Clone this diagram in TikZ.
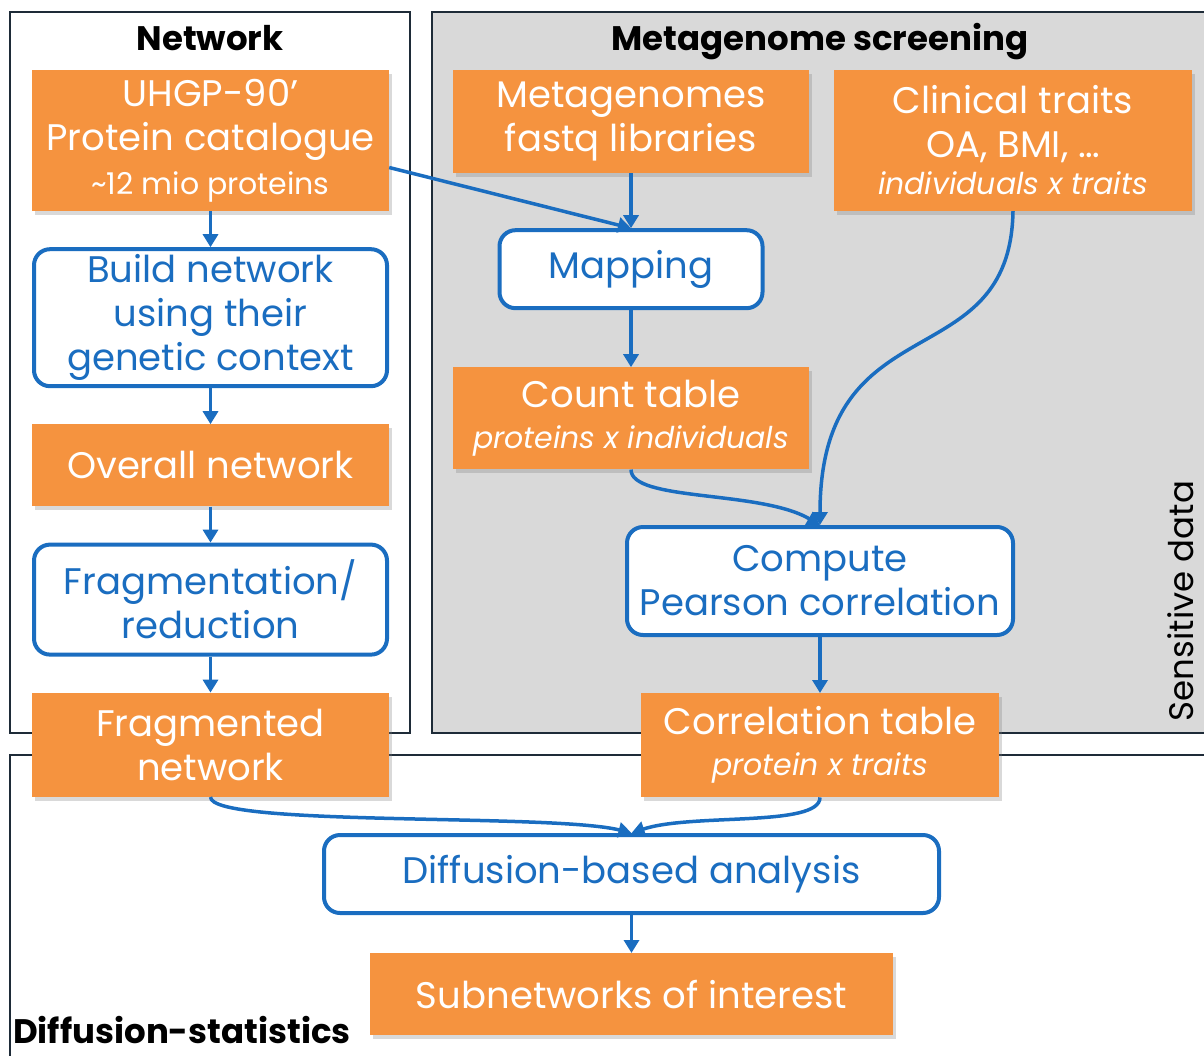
\documentclass[tikz,border=0pt]{standalone}
\usepackage{fontspec}
\setmainfont{Poppins}
\usetikzlibrary{positioning,arrows.meta,shadows}

\definecolor{boxorange}{HTML}{F5933F}
\definecolor{flowblue}{HTML}{1A6DC0}
\definecolor{framegray}{HTML}{D9D9D9}
\definecolor{frameline}{HTML}{1E2B38}

\newcommand{\mainsize}{\fontsize{37}{44}\selectfont}
\newcommand{\subsize}{\fontsize{30}{44}\selectfont}
\newcommand{\titlesize}{\fontsize{34}{40}\selectfont}

\begin{document}
\begin{tikzpicture}[
  x=1pt, y=-1pt,
  >={Triangle[length=13pt,width=15pt]},
  node distance=36pt,
  databox/.style={rectangle, fill=boxorange, text=white, align=center, inner sep=2pt, font=\mainsize,
    drop shadow={shadow xshift=3pt, shadow yshift=-4pt, opacity=0.3}},
  stepbox/.style={rectangle, draw=flowblue, line width=4pt, rounded corners=16pt, fill=white, text=flowblue, align=center, inner sep=2pt, font=\mainsize},
  frame/.style={draw=frameline, line width=2pt},
  arrow/.style={->, draw=flowblue, line width=3.5pt},
  title/.style={font=\titlesize\bfseries, inner sep=0pt},
]
  \useasboundingbox (0,0) rectangle (1204,1055);
  \clip (0,0) rectangle (1204,1055);

  % Frames
  \draw[frame] (10,12) rectangle (410,733);
  \draw[frame, fill=framegray] (432,12) rectangle (1220,733);
  \draw[frame] (10,755) rectangle (1220,1070);

  \node[title, anchor=base] (nettitle) at (210,50) {Network};
  \node[title, anchor=base] (metatitle) at (820,50) {Metagenome screening};
  \node[title, anchor=base west] (difftitle) at (13,1043) {Diffusion-statistics};
  \node[rotate=90, font=\titlesize, inner sep=0pt] (sensitive) at (1181,601) {Sensitive data};

  % Network column
  \node[databox, minimum width=357pt, minimum height=141pt] (uhgp) at (210.5,140.5)
    {UHGP-90’\\Protein catalogue\\{\subsize\textasciitilde12 mio proteins}};
  \node[stepbox, minimum width=353pt, minimum height=137pt, below=of uhgp] (build)
    {Build network\\using their\\genetic context};
  \node[databox, minimum width=357pt, minimum height=82pt, below=of build] (overall) {Overall network};
  \node[stepbox, minimum width=353pt, minimum height=110pt, below=of overall] (fragm)
    {Fragmentation/\\reduction};
  \node[databox, minimum width=357pt, minimum height=104pt, below=of fragm] (fragnet) {Fragmented\\network};

  % Metagenome screening
  \node[databox, minimum width=356pt, minimum height=103pt] (meta) at (631,121.5)
    {Metagenomes\\fastq libraries};
  \node[stepbox, minimum width=263pt, minimum height=78pt, below=55pt of meta] (mapping) {Mapping};
  \node[databox, minimum width=356pt, minimum height=102pt, below=57pt of mapping] (count)
    {Count table\\[-3pt]{\subsize\itshape proteins x individuals}};
  \node[databox, minimum width=358pt, minimum height=141pt] (clinical) at (1013,140.5)
    {Clinical traits\\{OA, BMI, …}\\[-7pt]{\subsize\itshape individuals x traits}};
  \node[stepbox, minimum width=386pt, minimum height=108pt] (compute) at (820,581)
    {Compute\\Pearson correlation};
  \node[databox, minimum width=358pt, minimum height=104pt, below=56pt of compute] (corr)
    {Correlation table\\[-3pt]{\subsize\itshape protein x traits}};

  % Diffusion-statistics
  \node[stepbox, minimum width=615pt, minimum height=78pt] (diffusion) at (631.5,874) {Diffusion-based analysis};
  \node[databox, minimum width=523pt, minimum height=82pt, below=38pt of diffusion] (subnet) {Subnetworks of interest};

  % Arrows
  \draw[arrow] (uhgp) -- (build);
  \draw[arrow] (build) -- (overall);
  \draw[arrow] (overall) -- (fragm);
  \draw[arrow] (fragm) -- (fragnet);
  \draw[arrow] ([yshift=-27pt]uhgp.east) -- (mapping.north);
  \draw[arrow] (meta) -- (mapping);
  \draw[arrow] (mapping) -- (count);
  \draw[arrow] (count.south) .. controls +(0,32) and +(-60,-35) .. (compute.north);
  \draw[arrow] (clinical.south) .. controls +(-3,169) and +(0,-225) .. (compute.north);
  \draw[arrow] (compute) -- (corr);
  \draw[arrow] (fragnet.south) .. controls +(0,30) and +(-80,-20) .. (diffusion.north);
  \draw[arrow] (corr.south) .. controls +(0,30) and +(60,-20) .. (diffusion.north);
  \draw[arrow] (diffusion) -- (subnet);
\end{tikzpicture}
\end{document}
